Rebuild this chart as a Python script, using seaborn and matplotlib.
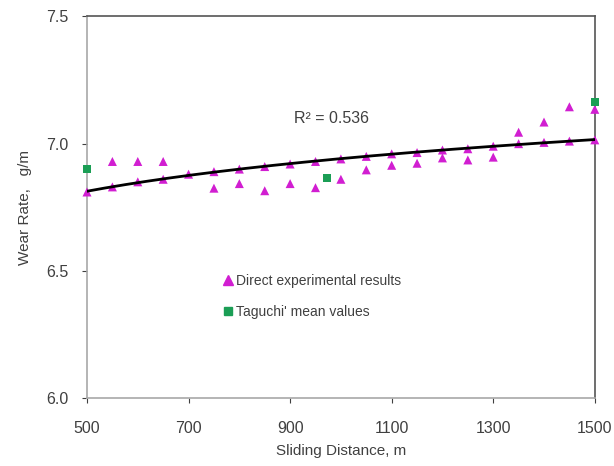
import numpy as np
import pandas as pd
import seaborn as sns
import matplotlib
matplotlib.use("Agg")
import matplotlib.pyplot as plt
from matplotlib.lines import Line2D

# ---- data ----
distance = [500, 550, 600, 650, 700, 750, 800, 850, 900, 950, 1000,
            1050, 1100, 1150, 1200, 1250, 1300, 1350, 1400, 1450, 1500]
# triangles lying on the trend curve
direct_on = [6.81, 6.83, 6.85, 6.86, 6.88, 6.89, 6.90, 6.91, 6.92, 6.93, 6.94,
             6.95, 6.96, 6.965, 6.975, 6.98, 6.99, 7.00, 7.005, 7.01, 7.015]
# triangles scattered off the curve
direct_off_x = [550, 600, 650, 750, 800, 850, 900, 950, 1000, 1050, 1100,
                1150, 1200, 1250, 1300, 1350, 1400, 1450, 1500]
direct_off = [6.93, 6.93, 6.93, 6.825, 6.843, 6.815, 6.843, 6.827, 6.86, 6.897, 6.915,
              6.923, 6.944, 6.936, 6.947, 7.045, 7.085, 7.145, 7.135]
taguchi_x = [500, 973, 1500]
taguchi_y = [6.90, 6.865, 7.165]
r2_label = "R² = 0.536"
xticks = [500, 700, 900, 1100, 1300, 1500]
yticks = [6.0, 6.5, 7.0, 7.5]

sns.set_theme(style="white")
plt.rcParams['font.family'] = ['Liberation Sans', 'DejaVu Sans']

magenta = "#D11ED1"
green = "#1B9E55"
txt = "#404040"

fig = plt.figure(figsize=(6.14, 4.66), dpi=100)
ax = fig.add_axes([0.1417, 0.1459, 0.827, 0.8187])

tri = pd.DataFrame({"x": distance + direct_off_x, "y": direct_on + direct_off})
tag = pd.DataFrame({"x": taguchi_x, "y": taguchi_y})

# logarithmic trend line through the on-curve points
coef = np.polyfit(np.log(distance), direct_on, 1)
xs = np.linspace(500, 1500, 200)
trend = pd.DataFrame({"x": xs, "y": coef[0] * np.log(xs) + coef[1]})

sns.scatterplot(data=tri, x="x", y="y", marker="^", color=magenta, s=42,
                edgecolor="none", ax=ax, zorder=3, clip_on=False)
sns.lineplot(data=trend, x="x", y="y", color="black", lw=2.0, ax=ax, zorder=4)
sns.scatterplot(data=tag, x="x", y="y", marker="s", color=green, s=36,
                edgecolor="none", ax=ax, zorder=5, clip_on=False)

ax.set_xlim(500, 1500)
ax.set_ylim(6.0, 7.5)
ax.set_xticks(xticks)
ax.set_yticks(yticks)
ax.set_yticklabels([f"{v:.1f}" for v in yticks])
ax.tick_params(axis="both", labelsize=11.5, colors=txt, length=3.6, width=0.8,
               direction="out", left=True, bottom=True)
ax.tick_params(axis="y", pad=10)
ax.tick_params(axis="x", pad=13)
ax.set_xlabel("Sliding Distance, m", fontsize=11, color=txt, labelpad=6)
ax.set_ylabel("Wear Rate,   g/m", fontsize=11, color=txt, labelpad=10)

for s in ["left", "bottom"]:
    ax.spines[s].set_color("#A8A8A8")
    ax.spines[s].set_linewidth(1.2)
for s in ["top", "right"]:
    ax.spines[s].set_color("#555555")
    ax.spines[s].set_linewidth(1.2)

ax.text(982, 7.098, r2_label, fontsize=11.5, color=txt, ha="center", va="center")

handles = [Line2D([], [], marker="^", color=magenta, ls="none", markersize=7),
           Line2D([], [], marker="s", color=green, ls="none", markersize=6)]
ax.legend(handles, ["Direct experimental results", "Taguchi' mean values"],
          loc="upper left", bbox_to_anchor=(0.245, 0.358), frameon=False,
          fontsize=10, handlelength=0.6, handletextpad=0.3, labelspacing=1.2,
          labelcolor=txt)

fig.savefig("out.png", dpi=100)
